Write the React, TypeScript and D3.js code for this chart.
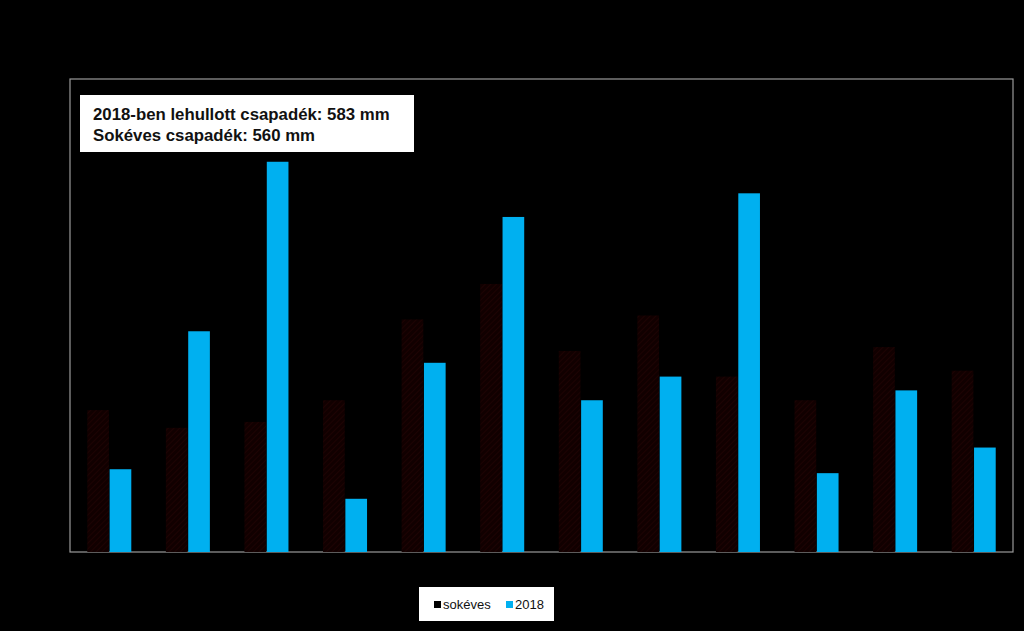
import React from "react";
import * as d3 from "d3";

const W = 1024;
const H = 631;

const months = ["január", "február", "március", "április", "május", "június", "július", "augusztus", "szeptember", "október", "november", "december"];
const series = ["sokéves", "2018"];
const sokeves = [36, 31.5, 33, 38.5, 59, 68, 51, 60, 44.5, 38.5, 52, 46];
const ev2018 = [21, 56, 99, 13.5, 48, 85, 38.5, 44.5, 91, 20, 41, 26.5];
const infoLines = ["2018-ben lehullott csapadék: 583 mm", "Sokéves csapadék: 560 mm"];

const frame = { left: 70, right: 1013, top: 79, bottom: 552 };

export default function App() {
  const x = d3.scaleBand<string>()
    .domain(months)
    .range([frame.left, frame.right])
    .paddingInner(0.44)
    .paddingOuter(0.22);
  const x1 = d3.scaleBand<string>()
    .domain(series)
    .range([0, x.bandwidth()])
    .paddingInner(0.03);
  const y = d3.scaleLinear().domain([0, 120]).range([frame.bottom, frame.top]);

  const colors: Record<string, string> = { "sokéves": "url(#hatch)", "2018": "#00b0f0" };
  const values: Record<string, number[]> = { "sokéves": sokeves, "2018": ev2018 };

  return (
    <svg width={W} height={H} style={{ position: "absolute", left: 0, top: 0 }}
      fontFamily="'Liberation Sans', Arial, sans-serif">
      <defs>
        <pattern id="hatch" width="4" height="4" patternUnits="userSpaceOnUse" patternTransform="rotate(45)">
          <rect width="4" height="4" fill="#110000" />
          <line x1="0" y1="0" x2="0" y2="4" stroke="#200404" strokeWidth="1.5" />
        </pattern>
      </defs>
      <rect width={W} height={H} fill="#000" />
      <rect x={frame.left} y={frame.top} width={frame.right - frame.left} height={frame.bottom - frame.top}
        fill="none" stroke="#9a9a9a" strokeWidth={1.2} />

      {months.map((m, i) => (
        <g key={m} transform={`translate(${x(m)},0)`}>
          {series.map((s) => (
            <rect key={s}
              x={x1(s)}
              y={y(values[s][i])}
              width={x1.bandwidth()}
              height={y(0) - y(values[s][i])}
              fill={colors[s]} />
          ))}
        </g>
      ))}

      <rect x={80} y={95} width={334} height={57} fill="#fff" />
      {infoLines.map((t, i) => (
        <text key={t} x={93} y={120 + i * 21} fontSize={16.8} fontWeight="bold" fill="#111">{t}</text>
      ))}

      <g transform="translate(419,587)">
        <rect width={135} height={34} fill="#fff" />
        <rect x={15} y={14} width={7} height={7} fill="#000" />
        <text x={24} y={22} fontSize={13} fill="#111">{series[0]}</text>
        <rect x={87} y={14} width={7} height={7} fill="#00b0f0" />
        <text x={96} y={22} fontSize={13} fill="#111">{series[1]}</text>
      </g>
    </svg>
  );
}
